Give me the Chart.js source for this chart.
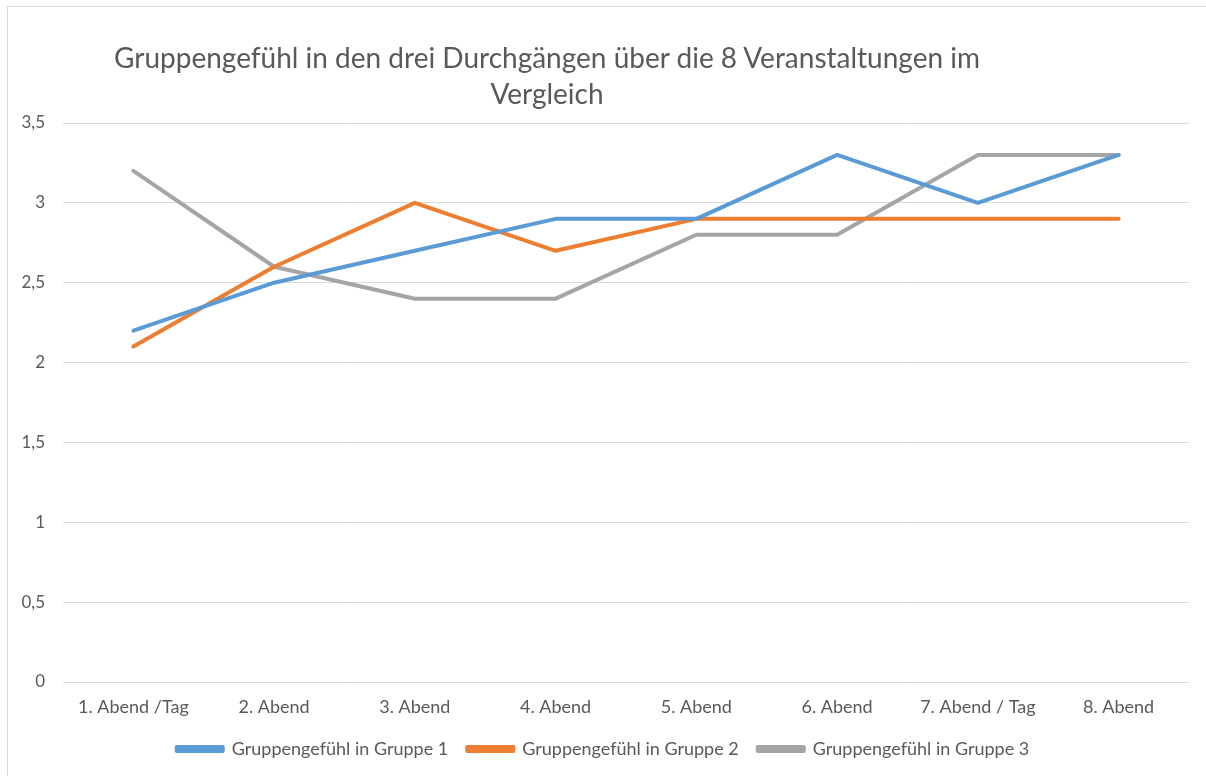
<!doctype html>
<html lang="de">
<head>
    <meta charset="utf-8">
    <script src="https://cdn.jsdelivr.net/npm/chart.js@4"></script>
    <title>Gruppengefühl</title>
    <style>
        body { margin: 0; background: #fff; }
        #frame {
            position: absolute; left: 7px; top: 6px;
            width: 1300px; height: 900px;
            border: 1px solid #d9d9d9;
        }
        #title {
            position: absolute; left: 47px; top: 39px; width: 1000px;
            text-align: center; white-space: nowrap;
            font-family: Lato, sans-serif; font-size: 28px; line-height: 36px;
            color: #595959;
        }
        #wrap { position: absolute; left: 0; top: 0; width: 1206px; height: 776px; }
    </style>
</head>
<body>
<div id="frame"></div>
<div id="wrap"><canvas id="chart"></canvas></div>
<div id="title">Gruppengefühl in den drei Durchgängen über die 8 Veranstaltungen im<br>Vergleich</div>

<script>
    // Veranstaltungen
    const labels = ['1. Abend /Tag', '2. Abend', '3. Abend', '4. Abend', '5. Abend', '6. Abend', '7. Abend / Tag', '8. Abend'];

    const gruppe1 = [2.2, 2.5, 2.7, 2.9, 2.9, 3.3, 3.0, 3.3];
    const gruppe2 = [2.1, 2.6, 3.0, 2.7, 2.9, 2.9, 2.9, 2.9];
    const gruppe3 = [3.2, 2.6, 2.4, 2.4, 2.8, 2.8, 3.3, 3.3];

    const textColor = '#595959';

    function series(label, values, color) {
        return {
            label: label,
            data: values,
            borderColor: color,
            backgroundColor: color,
            borderWidth: 4,
            borderCapStyle: 'round',
            borderJoinStyle: 'round',
            pointRadius: 0,
            tension: 0
        };
    }

    const chart = new Chart(document.getElementById('chart'), {
        type: 'line',
        data: {
            labels: labels,
            datasets: [
                series('Gruppengefühl in Gruppe 1', gruppe1, '#5b9bd5'),
                series('Gruppengefühl in Gruppe 2', gruppe2, '#ed7d31'),
                series('Gruppengefühl in Gruppe 3', gruppe3, '#a5a5a5')
            ]
        },
        options: {
            responsive: true,
            maintainAspectRatio: false,
            animation: false,
            layout: { padding: { left: 17, right: 17, top: 123, bottom: 8 } },
            plugins: {
                title: { display: false },
                tooltip: { enabled: false },
                legend: {
                    position: 'bottom',
                    labels: {
                        boxWidth: 46,
                        boxHeight: 4,
                        padding: 19,
                        color: textColor,
                        font: { family: 'Lato, sans-serif', size: 18 }
                    }
                }
            },
            scales: {
                x: {
                    offset: true,
                    grid: { display: false, drawTicks: false },
                    border: { display: false },
                    ticks: {
                        color: textColor,
                        font: { family: 'Lato, sans-serif', size: 18 },
                        padding: 14,
                        maxRotation: 0
                    },
                    afterFit: function (scale) { scale.height = 39; }
                },
                y: {
                    min: 0,
                    max: 3.5,
                    grid: { color: '#d9d9d9', drawTicks: false, lineWidth: 1 },
                    border: { display: false },
                    ticks: {
                        stepSize: 0.5,
                        color: textColor,
                        font: { family: 'Lato, sans-serif', size: 17 },
                        padding: 18,
                        callback: function (v) { return String(v).replace('.', ','); }
                    },
                    afterFit: function (scale) { scale.width = 46; }
                }
            }
        }
    });
</script>
</body>
</html>
